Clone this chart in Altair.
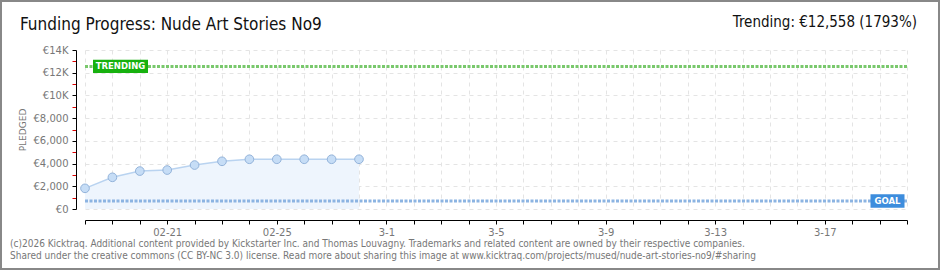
import altair as alt
import pandas as pd

# ---- data ----
days = [0, 1, 2, 3, 4, 5, 6, 7, 8, 9, 10]
pledged = [1820, 2790, 3340, 3430, 3870, 4200, 4380, 4380, 4380, 4380, 4380]
goal = [700]
trending = [12558]
tick_label_days = [3, 7, 11, 15, 19, 23, 27]
tick_label_text = ["02-21", "02-25", "3-1", "3-5", "3-9", "3-13", "3-17"]
n_days = 30
y_max = 14000

title_text = "Funding Progress: Nude Art Stories No9"
trend_text = "Trending: €12,558 (1793%)"
footer_1 = ("(c)2026 Kicktraq. Additional content provided by Kickstarter Inc. and Thomas Louvagny. "
            "Trademarks and related content are owned by their respective companies.")
footer_2 = ("Shared under the creative commons (CC BY-NC 3.0) license. Read more about sharing this image at "
            "www.kicktraq.com/projects/mused/nude-art-stories-no9/#sharing")

df = pd.DataFrame({"day": days, "pledged": pledged})
trend_df = pd.DataFrame({"v": trending})
goal_df = pd.DataFrame({"v": goal})

W, H = 822, 159
PL, PT = 85, 50

x_label_expr = "".join(
    f"datum.value == {d} ? '{t}' : " for d, t in zip(tick_label_days, tick_label_text)
) + "''"

y_label_expr = ("datum.value % 2000 != 0 ? '' : (datum.value >= 10000 ? '€' + (datum.value/1000) + 'K' "
                ": '€' + format(datum.value, ','))")

x_scale = alt.Scale(domain=[0, n_days], nice=False, zero=False)
y_scale = alt.Scale(domain=[0, y_max], nice=False)

x_axis = alt.Axis(
    values=list(range(0, n_days + 1)),
    labelExpr=x_label_expr,
    labelOverlap=False,
    labelBound=False,
    title=None,
    offset=11,
    domainColor="black",
    tickColor="black",
    tickSize=4,
    labelFont="DejaVu Sans",
    labelFontSize=10,
    labelColor="#777777",
    labelPadding=3,
    grid=True,
    gridColor="#e4e4e4",
    gridDash=[4, 4],
)

y_axis = alt.Axis(
    values=list(range(0, y_max + 1, 1000)),
    labelExpr=y_label_expr,
    labelOverlap=False,
    labelBound=False,
    title="PLEDGED",
    titleFont="DejaVu Sans",
    titleFontSize=9,
    titleFontWeight="normal",
    titleColor="#777777",
    titlePadding=6,
    offset=9,
    domainColor="black",
    tickColor={"condition": {"test": "datum.value % 2000 != 0", "value": "#dd0000"}, "value": "black"},
    tickSize=4,
    labelFont="DejaVu Sans",
    labelFontSize=10,
    labelColor="#777777",
    labelPadding=4,
    grid=True,
    gridColor="#e4e4e4",
    gridDash=[4, 4],
    gridOpacity={"condition": {"test": "datum.value % 2000 != 0", "value": 0}, "value": 1},
)

X = alt.X("day:Q", scale=x_scale, axis=x_axis)
Y = alt.Y("pledged:Q", scale=y_scale, axis=y_axis)
YV = alt.Y("v:Q", scale=y_scale, axis=y_axis)

base = alt.Chart(df)

area = base.mark_area(color="#eef5fd", opacity=1).encode(x=X, y=Y)
line = base.mark_line(color="#b9d3f0", strokeWidth=1.5).encode(x=X, y=Y)
points = base.mark_point(filled=False, fill="#c6ddf6", stroke="#93b3da", strokeWidth=1,
                         size=75, opacity=1).encode(x=X, y=Y)

trend_line = alt.Chart(trend_df).mark_rule(color="#79c86c", strokeWidth=3, strokeDash=[3, 1.5]).encode(
    y=YV, x=alt.value(0), x2=alt.value(W)
)
goal_line = alt.Chart(goal_df).mark_rule(color="#8cb4e2", strokeWidth=3, strokeDash=[3, 1.5]).encode(
    y=YV, x=alt.value(0), x2=alt.value(W)
)

trend_box = alt.Chart(trend_df).mark_point(shape="M-1,-0.24H1V0.24H-1Z", filled=True, color="#17b10f",
                                           size=55 * 55, opacity=1).encode(y=YV, x=alt.value(35.5))
trend_lbl = alt.Chart(trend_df).mark_text(text="TRENDING", color="white", font="DejaVu Sans", fontSize=8.5,
                                          fontWeight="bold", align="center", baseline="middle").encode(
    y=YV, x=alt.value(35.5)
)
goal_box = alt.Chart(goal_df).mark_point(shape="M-1,-0.4H1V0.4H-1Z", filled=True, color="#3d8ddd",
                                         size=34 * 34, opacity=1).encode(y=YV, x=alt.value(802.5))
goal_lbl = alt.Chart(goal_df).mark_text(text="GOAL", color="white", font="DejaVu Sans", fontSize=8.5,
                                        fontWeight="bold", align="center", baseline="middle").encode(
    y=YV, x=alt.value(802.5)
)

ref = alt.Chart(pd.DataFrame({"k": [0]}))
title = ref.mark_text(text=title_text, font="Liberation Sans Narrow, DejaVu Sans Condensed, Roboto",
                      fontSize=17, color="#111111", align="left", baseline="alphabetic").encode(
    x=alt.value(20 - PL), y=alt.value(30 - PT)
)
trend_t = ref.mark_text(text=trend_text, font="Liberation Sans Narrow, DejaVu Sans Condensed, Roboto",
                        fontSize=15, color="#111111", align="right", baseline="alphabetic").encode(
    x=alt.value(917 - PL), y=alt.value(27 - PT)
)
foot1 = ref.mark_text(text=footer_1, font="DejaVu Sans Condensed, Liberation Sans", fontSize=10,
                      color="#777777", align="left", baseline="alphabetic").encode(
    x=alt.value(10 - PL), y=alt.value(247 - PT)
)
foot2 = ref.mark_text(text=footer_2, font="DejaVu Sans Condensed, Liberation Sans", fontSize=10,
                      color="#777777", align="left", baseline="alphabetic").encode(
    x=alt.value(10 - PL), y=alt.value(259 - PT)
)
border = ref.mark_rect(fill=None, stroke="#888888", strokeWidth=2).encode(
    x=alt.value(1 - PL), x2=alt.value(939 - PL), y=alt.value(1 - PT), y2=alt.value(269 - PT)
)

chart = alt.layer(
    area, line, goal_line, trend_line, points, trend_box, trend_lbl, goal_box, goal_lbl,
    title, trend_t, foot1, foot2, border
).properties(
    width=W, height=H,
    autosize=alt.AutoSizeParams(type="none"),
    padding={"left": PL, "top": PT, "right": 940 - PL - W, "bottom": 270 - PT - H},
    background="white",
).configure_view(stroke=None)

chart.save("out.html", embed_options={"renderer": "svg", "actions": False})
